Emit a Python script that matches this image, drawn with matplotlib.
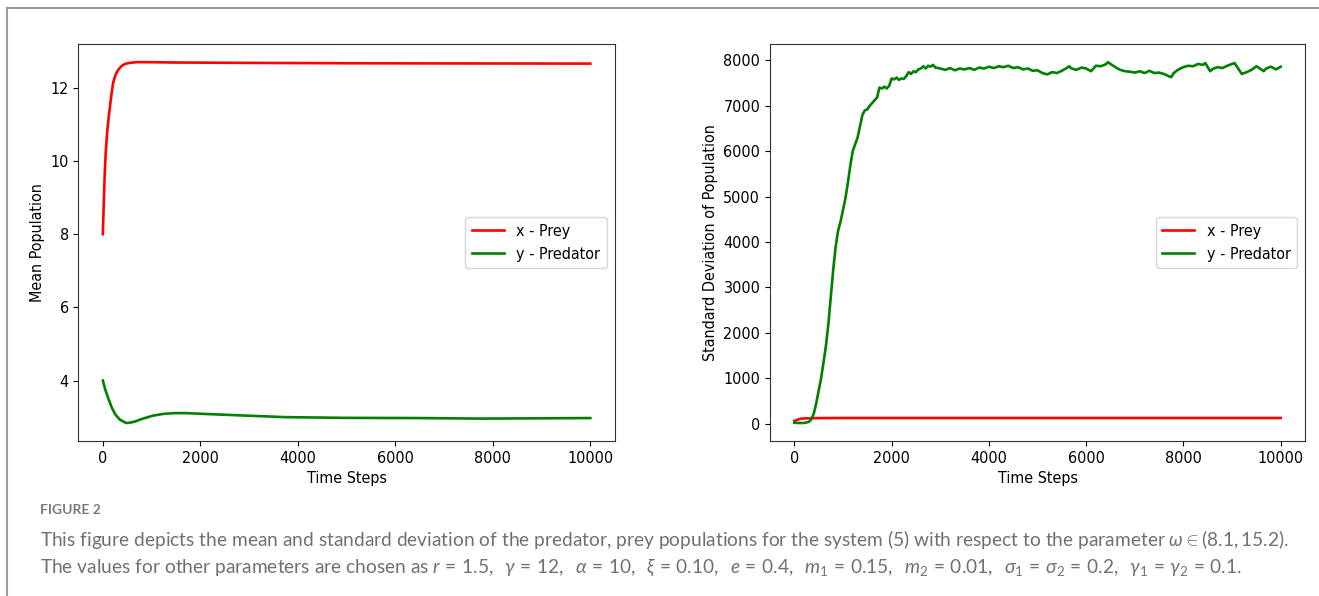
from matplotlib import pyplot as plt
from matplotlib.lines import Line2D

plt.rcParams["font.family"] = ["DejaVu Sans"]
plt.rcParams["font.stretch"] = "condensed"
plt.rcParams["mathtext.fontset"] = "custom"
plt.rcParams["mathtext.rm"] = "Lato"
plt.rcParams["mathtext.it"] = "Lato:italic"

# Mean population (left panel)
mean_t_prey = [0, 20, 40, 60, 90, 120, 145, 180, 210, 260, 315, 380, 450, 550, 690,
               900, 1500, 3000, 5000, 7000, 10000]
mean_prey = [8.0, 8.9, 9.7, 10.25, 10.8, 11.2, 11.48, 11.85, 12.13, 12.35, 12.49, 12.59,
             12.65, 12.68, 12.70, 12.70, 12.69, 12.68, 12.67, 12.665, 12.66]
mean_t_pred = [0, 50, 110, 180, 257, 350, 477, 560, 660, 800, 1026, 1250, 1466, 1700,
               2050, 2786, 3740, 4985, 6450, 7770, 10000]
mean_pred = [4.0, 3.75, 3.52, 3.27, 3.07, 2.93, 2.84, 2.85, 2.88, 2.95, 3.04, 3.09, 3.11,
             3.11, 3.09, 3.05, 3.00, 2.98, 2.975, 2.96, 2.975]

# Standard deviation of population (right panel)
std_t_prey = [0, 50, 100, 150, 200, 300, 500, 1000, 10000]
std_prey = [60, 80, 100, 110, 115, 120, 123, 125, 125]
std_t_pred = [0, 100, 200, 300, 350, 400, 450, 500, 550, 600, 650, 700, 750, 800, 850,
              900, 950, 1000, 1050, 1100, 1150, 1200, 1250, 1300, 1350, 1400, 1450, 1500,
              1550, 1600, 1650, 1700, 1750, 1800, 1850, 1900, 1950, 2000, 2050, 2100,
              2150, 2200, 2250, 2300, 2350, 2400, 2450, 2500, 2550, 2600, 2650, 2700,
              2750, 2800, 2850, 2900, 2950,
              3000, 3100, 3200, 3300, 3400, 3500, 3600, 3700, 3800, 3900, 4000, 4100,
              4200, 4300, 4400, 4500, 4600, 4700, 4800, 4900, 5000, 5100, 5200, 5300,
              5400, 5500, 5600, 5650, 5700, 5800, 5900, 6000, 6100, 6200, 6300, 6400,
              6450, 6500, 6600, 6700, 6800, 6900, 7000, 7100, 7200, 7300, 7400, 7500,
              7600, 7700, 7750, 7800, 7900, 8000, 8100, 8200, 8300, 8400, 8450, 8500,
              8550, 8600, 8700, 8800, 8900, 9000, 9050, 9100, 9200, 9300, 9400, 9500,
              9600, 9650, 9700, 9800, 9900, 10000]
std_pred = [20, 15, 15, 40, 100, 220, 450, 720, 1000, 1350, 1720, 2200, 2800, 3400, 3900,
            4250, 4450, 4700, 4960, 5300, 5680, 6000, 6150, 6300, 6550, 6800, 6900, 6920,
            7000, 7060, 7120, 7180, 7400, 7380, 7420, 7380, 7440, 7600, 7580, 7620,
            7570, 7600, 7590, 7650, 7740, 7700, 7760, 7740, 7800, 7820, 7870, 7820,
            7880, 7860, 7900, 7840, 7830,
            7820, 7790, 7830, 7780, 7820, 7800, 7830, 7790, 7840, 7820, 7860, 7830,
            7870, 7850, 7880, 7830, 7850, 7800, 7820, 7770, 7780, 7720, 7690, 7740,
            7720, 7770, 7830, 7870, 7820, 7790, 7840, 7820, 7760, 7880, 7870, 7910,
            7960, 7920, 7850, 7790, 7760, 7750, 7730, 7760, 7720, 7770, 7720, 7730,
            7700, 7650, 7630, 7720, 7800, 7850, 7880, 7870, 7920, 7900, 7940, 7850,
            7760, 7810, 7850, 7830, 7880, 7920, 7940, 7860, 7700, 7740, 7790, 7870,
            7800, 7760, 7820, 7860, 7800, 7860]

tick_size = 11.5
label_size = 11.5
line_width = 1.9

figure = plt.figure(figsize=(13.19, 5.96), dpi=100)
ax1 = figure.add_axes([0.0595, 0.260, 0.4065, 0.666])
ax2 = figure.add_axes([0.5838, 0.260, 0.4056, 0.666])

ax1.plot(mean_t_prey, mean_prey, color="red", lw=line_width, label="x - Prey")
ax1.plot(mean_t_pred, mean_pred, color="green", lw=line_width, label="y - Predator")
ax1.set_ylabel("Mean Population", fontsize=label_size)
ax1.set_yticks([4, 6, 8, 10, 12])

ax2.plot(std_t_prey, std_prey, color="red", lw=line_width, label="x - Prey")
ax2.plot(std_t_pred, std_pred, color="green", lw=line_width, label="y - Predator")
ax2.set_ylabel("Standard Deviation of Population", fontsize=label_size)

for ax in (ax1, ax2):
    ax.set_xlabel("Time Steps", fontsize=label_size)
    ax.set_xticks([0, 2000, 4000, 6000, 8000, 10000])
    ax.tick_params(labelsize=tick_size)
    ax.legend(loc="center right", fontsize=tick_size)
    for spine in ax.spines.values():
        spine.set_color("#333333")

# caption
grey = "#707070"
figure.text(0.0305, 0.145, "FIGURE 2", fontsize=10, color="#7a7a7a", family="Lato",
            fontweight="bold", va="center")
figure.text(0.0305, 0.095,
            "This figure depicts the mean and standard deviation of the predator, prey "
            "populations for the system (5) with respect to the parameter "
            r"$\omega \in (8.1, 15.2)$.",
            fontsize=13.8, color=grey, family="Lato", va="center")
figure.text(0.0305, 0.047,
            "The values for other parameters are chosen as "
            r"$r \,=\, 1.5,\;\ \gamma \,=\, 12,\;\ \alpha \,=\, 10,\;\ \xi \,=\, 0.10,\;\ "
            r"e \,=\, 0.4,\;\ m_1 \,=\, 0.15,\;\ m_2 \,=\, 0.01,\;\ "
            r"\sigma_1 \,=\, \sigma_2 \,=\, 0.2,\;\ \gamma_1 \,=\, \gamma_2 \,=\, 0.1$.",
            fontsize=13.8, color=grey, family="Lato", va="center")

# frame around the figure panel
figure.add_artist(Line2D([0.005, 0.005], [0.0, 0.987], color="#9a9a9a", lw=1.5))
figure.add_artist(Line2D([0.005, 1.0], [0.987, 0.987], color="#9a9a9a", lw=1.5))

plt.savefig("out.png", dpi=100)
